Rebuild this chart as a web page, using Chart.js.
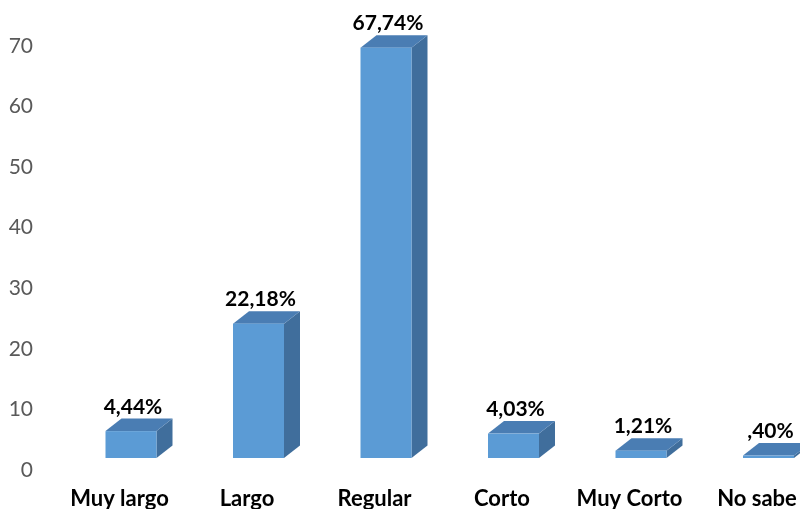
<!DOCTYPE html>
<html lang="es">
<head>
<meta charset="utf-8">
<title>Percepción del tiempo</title>
<script src="https://cdn.jsdelivr.net/npm/chart.js@4.4.1/dist/chart.umd.min.js"></script>
<style>
    html, body { margin: 0; padding: 0; background: #fff; }
    #grafico { display: block; }
</style>
</head>
<body>
<canvas id="grafico" width="800" height="509"></canvas>
<script>
// Datos del gráfico
const categorias = ['Muy largo', 'Largo', 'Regular', 'Corto', 'Muy Corto', 'No sabe'];
const porcentajes = [4.44, 22.18, 67.74, 4.03, 1.21, 0.40];
const ticksEjeY = [0, 10, 20, 30, 40, 50, 60, 70];

// Colores de las caras de cada barra 3D
const colorFrente = '#5B9BD5';
const colorTapa = '#4A7DB3';
const colorLado = '#406E9C';

// Profundidad de la barra (perspectiva)
const profX = 16;
const profY = 12.5;

// Formato tipo Excel: 67,74% / ,40%
function formatoPct(v) {
    let txt = v.toFixed(2).replace('.', ',');
    if (v < 1) txt = txt.replace(/^0/, '');
    return txt + '%';
}

// Dibuja las barras en 3D y sus etiquetas encima de la tapa
const barras3D = {
    id: 'barras3D',
    afterDatasetsDraw(chart) {
        const ctx = chart.ctx;
        const meta = chart.getDatasetMeta(0);
        ctx.save();
        meta.data.forEach((bar, i) => {
            const x0 = bar.x - bar.width / 2;
            const x1 = bar.x + bar.width / 2;
            const yTop = bar.y;
            const yBot = bar.base;

            // cara lateral
            ctx.fillStyle = colorLado;
            ctx.beginPath();
            ctx.moveTo(x1, yTop);
            ctx.lineTo(x1 + profX, yTop - profY);
            ctx.lineTo(x1 + profX, yBot - profY);
            ctx.lineTo(x1, yBot);
            ctx.closePath();
            ctx.fill();

            // tapa
            ctx.fillStyle = colorTapa;
            ctx.beginPath();
            ctx.moveTo(x0, yTop);
            ctx.lineTo(x1, yTop);
            ctx.lineTo(x1 + profX, yTop - profY);
            ctx.lineTo(x0 + profX, yTop - profY);
            ctx.closePath();
            ctx.fill();

            // frente
            ctx.fillStyle = colorFrente;
            ctx.fillRect(x0, yTop, x1 - x0, yBot - yTop);

            // etiqueta de valor
            ctx.fillStyle = '#000';
            ctx.font = 'bold 21px Lato';
            ctx.textAlign = 'center';
            ctx.textBaseline = 'alphabetic';
            ctx.fillText(formatoPct(porcentajes[i]), bar.x + 2, yTop - profY - 5);
        });
        ctx.restore();
    }
};

const grafico = new Chart(document.getElementById('grafico'), {
    type: 'bar',
    data: {
        labels: categorias,
        datasets: [{
            data: porcentajes,
            backgroundColor: 'rgba(0,0,0,0)',
            borderWidth: 0,
            barThickness: 51
        }]
    },
    options: {
        responsive: false,
        animation: false,
        devicePixelRatio: 1,
        layout: { padding: { top: 34, right: 31.5, left: 0, bottom: 0 } },
        plugins: {
            legend: { display: false },
            tooltip: { enabled: false }
        },
        scales: {
            x: {
                offset: false,
                grid: { display: false, drawTicks: false },
                border: { display: false },
                ticks: {
                    color: '#000',
                    font: { family: 'Lato', size: 22, weight: 'bold' },
                    padding: 28,
                    labelOffset: -11.5,
                    maxRotation: 0,
                    minRotation: 0,
                    autoSkip: false
                },
                afterFit: s => {
                    s.height = 51;
                    s.paddingLeft = 0;
                    s.paddingRight = 0;
                }
            },
            y: {
                min: 0,
                max: 70,
                grid: { display: false, drawTicks: false },
                border: { display: false },
                afterBuildTicks: s => { s.ticks = ticksEjeY.map(v => ({ value: v })); },
                ticks: {
                    color: '#595959',
                    font: { family: 'Lato', size: 21 },
                    padding: 98,
                    labelOffset: 12
                },
                // el padding de las etiquetas no debe reducir el área del gráfico
                afterFit: s => {
                    s.width = 131;
                    s.paddingTop = 0;
                    s.paddingBottom = 0;
                }
            }
        }
    },
    plugins: [barras3D]
});
</script>
</body>
</html>
